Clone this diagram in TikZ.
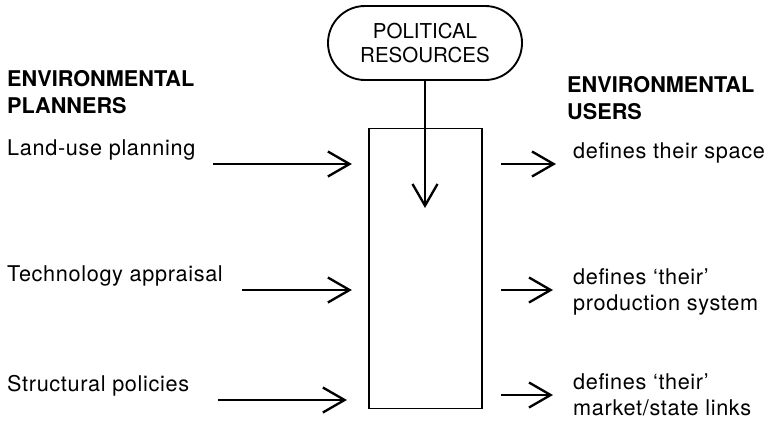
\documentclass[tikz,border=0pt]{standalone}
\usepackage{fontspec}
\setmainfont{TeX Gyre Heros}
\newfontfamily\spacedfont{TeX Gyre Heros}[LetterSpace=3, Ligatures=TeX]
\usetikzlibrary{arrows.meta,positioning,shapes.misc,calc}

\begin{document}
\begin{tikzpicture}[
    x=0.03cm, y=-0.03cm,
    every node/.style={font=\fontsize{18.5}{22}\selectfont},
    sidetext/.style={anchor=west, align=left, inner sep=0pt, font=\fontsize{18.5}{22}\spacedfont},
    heading/.style={anchor=west, align=left, inner sep=0pt, font=\fontsize{18.5}{22.5}\selectfont\bfseries},
    resource/.style={rounded rectangle, draw, line width=1.6pt, minimum width=5.82cm, minimum height=2.22cm, align=center, inner sep=0pt, font=\fontsize{17.5}{21}\selectfont},
    hubbox/.style={rectangle, draw, line width=1.6pt, minimum width=3.4cm, minimum height=8.4cm, inner sep=0pt},
    arrow/.style={-{Straight Barb[length=6.5mm,width=7.5mm]}, line width=2pt}
]
\useasboundingbox (0,0) rectangle (768,420);

% Centre
\node[resource] (pol) at (425,43) {POLITICAL\\RESOURCES};
\node[hubbox] (hub) at (425.5,268.5) {};
\coordinate (drop) at (425,208);

% Planners side
\node[heading] (planners) at (7,92) {ENVIRONMENTAL\\PLANNERS};
\node[sidetext] (land) at (7,150) {Land-use planning};
\node[sidetext] (tech) at (7,276) {Technology appraisal};
\node[sidetext] (struct) at (7,386) {Structural policies};
\coordinate (l1) at (213,164);
\coordinate (l2) at (242,290);
\coordinate (l3) at (218,400);

% Users side
\node[heading] (users) at (567,98) {ENVIRONMENTAL\\USERS};
\node[sidetext] (space) at (573,153) {defines their space};
\node[sidetext] (prod) at (573,292) {defines ‘their’\\production system};
\node[sidetext] (links) at (573,395) {defines ‘their’\\market/state links};
\coordinate (r1) at (556,164);
\coordinate (r2) at (553,290);
\coordinate (r3) at (553,395);

% Arrows
\draw[arrow] (pol.south) -- (drop);
\draw[arrow, shorten >=0.48cm] (l1) -- (hub.west |- l1);
\draw[arrow, shorten >=0.48cm] (l2) -- (hub.west |- l2);
\draw[arrow, shorten >=0.63cm] (l3) -- (hub.west |- l3);
\draw[arrow, shorten <=0.54cm] (hub.east |- r1) -- (r1);
\draw[arrow, shorten <=0.54cm] (hub.east |- r2) -- (r2);
\draw[arrow, shorten <=0.54cm] (hub.east |- r3) -- (r3);
\end{tikzpicture}
\end{document}
